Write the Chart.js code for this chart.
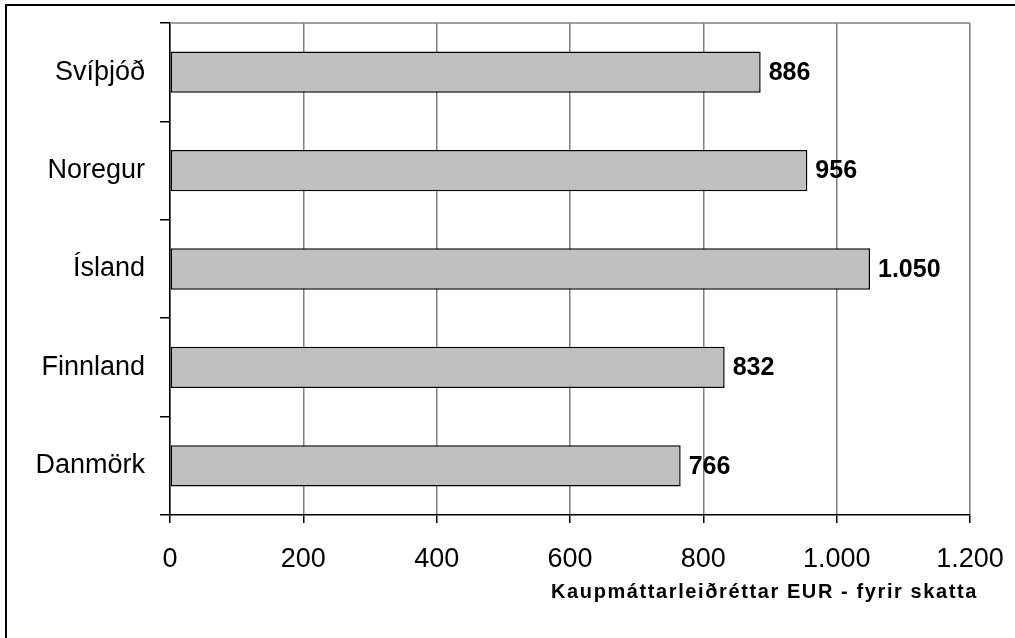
<!DOCTYPE html>
<html>
<head>
<meta charset="utf-8">
<script src="https://cdn.jsdelivr.net/npm/chart.js@4"></script>
<style>
  html, body { margin: 0; padding: 0; background: #fff; }
  canvas { display: block; }
</style>
</head>
<body>
<canvas id="chart" width="1015" height="638"></canvas>
<script>
// data
const countries = ["Svíþjóð", "Noregur", "Ísland", "Finnland", "Danmörk"];
const wages = [886, 956, 1050, 832, 766];
const xTicks = [0, 200, 400, 600, 800, 1000, 1200];
const axisTitle = "Kaupmáttarleiðréttar EUR - fyrir skatta";

const FONT = "'Liberation Sans', Arial, sans-serif";

// icelandic style thousands separator
function fmt(v) {
  return String(v).replace(/\B(?=(\d{3})+(?!\d))/g, ".");
}

const framePlugin = {
  id: "frame",
  beforeDraw(chart) {
    const c = chart.ctx;
    c.save();
    c.fillStyle = "#fff";
    c.fillRect(0, 0, chart.width, chart.height);
    c.strokeStyle = "#000";
    c.lineWidth = 2;
    c.beginPath();
    c.moveTo(6, chart.height);
    c.lineTo(6, 5);
    c.lineTo(chart.width, 5);
    c.stroke();
    c.restore();
  },
  beforeDatasetsDraw(chart) {
    // grey top edge of the plot area
    const a = chart.chartArea;
    const c = chart.ctx;
    c.save();
    c.strokeStyle = "#808080";
    c.lineWidth = 1.5;
    c.beginPath();
    c.moveTo(a.left, a.top);
    c.lineTo(a.right, a.top);
    c.stroke();
    c.restore();
  },
  afterDatasetsDraw(chart) {
    const c = chart.ctx;
    const meta = chart.getDatasetMeta(0);
    c.save();
    c.fillStyle = "#000";
    c.font = "bold 25px " + FONT;
    c.textAlign = "left";
    c.textBaseline = "middle";
    meta.data.forEach((bar, i) => {
      c.fillText(fmt(wages[i]), bar.x + 8, bar.y + 1);
    });
    // axis title, bold, under the tick labels
    c.font = "bold 20px " + FONT;
    c.letterSpacing = "1.6px";
    c.textAlign = "right";
    c.textBaseline = "alphabetic";
    c.fillText(axisTitle, chart.chartArea.right + 8, 598);
    c.restore();
  }
};

new Chart(document.getElementById("chart"), {
  type: "bar",
  data: {
    labels: countries,
    datasets: [{
      data: wages,
      backgroundColor: "#c0c0c0",
      borderColor: "#000",
      borderWidth: 1.5,
      borderSkipped: false,
      categoryPercentage: 1,
      barPercentage: 0.42
    }]
  },
  options: {
    indexAxis: "y",
    responsive: false,
    devicePixelRatio: 1,
    animation: false,
    layout: { padding: { left: 0, top: 23, right: 45, bottom: 0 } },
    plugins: { legend: { display: false }, tooltip: { enabled: false } },
    scales: {
      x: {
        min: 0,
        max: 1200,
        afterBuildTicks(scale) {
          scale.ticks = xTicks.map(v => ({ value: v }));
        },
        afterFit(scale) {
          scale.height = 123;
          scale.paddingLeft = 0;
          scale.paddingRight = 0;
        },
        grid: { color: "#808080", lineWidth: 1.5, tickColor: "#000", tickLength: 8 },
        border: { color: "#000", width: 1.5 },
        ticks: {
          color: "#000",
          font: { family: FONT, size: 27 },
          padding: 20,
          maxRotation: 0,
          callback: v => fmt(v)
        }
      },
      y: {
        afterFit(scale) {
          scale.width = 170;
          scale.paddingTop = 0;
          scale.paddingBottom = 0;
        },
        grid: { offset: true, drawOnChartArea: false, tickColor: "#000", tickLength: 10, lineWidth: 1.5 },
        border: { color: "#000", width: 1.5 },
        ticks: {
          color: "#000",
          font: { family: FONT, size: 27 },
          padding: 15
        }
      }
    }
  },
  plugins: [framePlugin]
});
</script>
</body>
</html>
